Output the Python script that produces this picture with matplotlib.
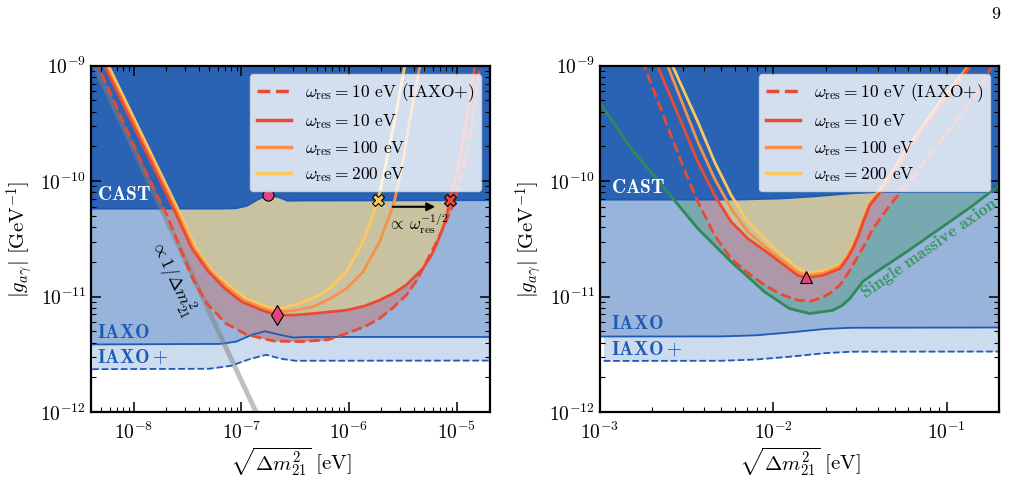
import numpy as np
import matplotlib
matplotlib.use("Agg")
import matplotlib.pyplot as plt
from matplotlib.patches import Polygon

plt.rcParams['font.family'] = 'serif'
plt.rcParams['font.serif'] = ['cmr10', 'DejaVu Serif']
plt.rcParams['mathtext.fontset'] = 'cm'
plt.rcParams['axes.formatter.use_mathtext'] = True
plt.rcParams['axes.unicode_minus'] = False

# colours
c_dark = '#2a63b4'
c_mid = '#98b4db'
c_light = '#cddbee'
c_bline = '#1f5bb5'
c_tan = '#c9c2a0'
c_mauve = '#ae97a9'
c_teal = '#78a8b0'
c_red = '#eb4a32'
c_orange = '#f5914a'
c_yellow = '#fbc95c'
c_green = '#2e8b57'
c_pink = '#e0457b'

# ---------------- left panel data ----------------
L_xlim = (4e-9, 2.04e-5)
L_xticks = [1e-8, 1e-7, 1e-6, 1e-5]
castL_x = [4e-9, 6.31e-8, 8.91e-8, 1.12e-7, 1.41e-7, 1.78e-7, 2.24e-7, 2.69e-7, 3.55e-7, 2.04e-5]
castL_y = [5.78e-11, 5.78e-11, 5.82e-11, 6.10e-11, 6.92e-11, 7.59e-11, 7.24e-11, 6.76e-11, 6.79e-11, 6.84e-11]
iaxoL_x = [4e-9, 6.31e-8, 8.91e-8, 1.26e-7, 1.66e-7, 2.24e-7, 3.02e-7, 3.98e-7, 2.04e-5]
iaxoL_y = [3.85e-12, 3.89e-12, 4.07e-12, 4.68e-12, 5.01e-12, 4.68e-12, 4.42e-12, 4.47e-12, 4.47e-12]
iaxopL_x = [4.1e-9, 5.01e-8, 7.94e-8, 1.20e-7, 1.70e-7, 2.40e-7, 3.16e-7, 2.04e-5]
iaxopL_y = [2.35e-12, 2.37e-12, 2.51e-12, 2.88e-12, 3.13e-12, 2.88e-12, 2.78e-12, 2.79e-12]
grayL_x = [4e-9, 1.5e-7]
grayL_y = [1.17e-9, 8.3e-13]

dashL_x = [4.37e-9, 4.70e-9, 1.26e-8, 2.04e-8, 2.75e-8, 3.55e-8, 4.79e-8, 7.08e-8, 1.12e-7, 2.0e-7,
           3.55e-7, 6.31e-7, 9.44e-7, 1.40e-6, 1.92e-6, 2.60e-6, 3.40e-6, 4.30e-6, 5.22e-6, 6.30e-6,
           7.45e-6, 8.70e-6, 9.91e-6, 1.18e-5, 1.37e-5, 1.51e-5, 1.62e-5, 1.68e-5]
dashL_y = [1.12e-9, 9.75e-10, 1.26e-10, 5.01e-11, 2.51e-11, 1.41e-11, 8.71e-12, 5.89e-12, 4.68e-12, 4.12e-12,
           4.07e-12, 4.22e-12, 4.79e-12, 5.50e-12, 6.46e-12, 8.10e-12, 1.03e-11, 1.40e-11, 2.0e-11, 2.80e-11,
           3.89e-11, 5.40e-11, 7.59e-11, 1.47e-10, 2.85e-10, 5.55e-10, 8.91e-10, 1.12e-9]
redL_x = [5.01e-9, 5.42e-9, 2.34e-8, 3.46e-8, 4.94e-8, 7.05e-8, 1.01e-7, 1.55e-7, 2.13e-7, 3.16e-7,
          4.62e-7, 9.44e-7, 1.40e-6, 1.92e-6, 2.60e-6, 3.40e-6, 4.85e-6, 5.70e-6, 6.46e-6, 8.0e-6,
          8.59e-6, 1.06e-5, 1.27e-5, 1.47e-5, 1.51e-5]
redL_y = [1.12e-9, 9.75e-10, 5.78e-11, 2.61e-11, 1.64e-11, 1.17e-11, 9.0e-12, 7.62e-12, 6.90e-12, 6.92e-12,
          7.13e-12, 7.62e-12, 8.30e-12, 9.31e-12, 1.07e-11, 1.26e-11, 1.75e-11, 2.20e-11, 2.79e-11, 4.73e-11,
          6.82e-11, 1.47e-10, 3.98e-10, 9.75e-10, 1.12e-9]
orangeL_x = [5.13e-9, 5.61e-9, 2.45e-8, 3.63e-8, 5.19e-8, 7.41e-8, 1.05e-7, 1.58e-7, 2.13e-7, 3.16e-7,
             4.62e-7, 6.61e-7, 9.44e-7, 1.35e-6, 1.92e-6, 2.38e-6, 2.65e-6, 3.16e-6, 3.78e-6, 4.53e-6, 4.68e-6]
orangeL_y = [1.12e-9, 9.75e-10, 5.78e-11, 2.61e-11, 1.64e-11, 1.20e-11, 9.33e-12, 7.94e-12, 7.33e-12, 7.59e-12,
             8.15e-12, 9.55e-12, 1.17e-11, 1.64e-11, 2.98e-11, 5.07e-11, 6.82e-11, 1.47e-10, 3.98e-10, 9.75e-10, 1.12e-9]
yellowL_x = [5.37e-9, 5.90e-9, 2.56e-8, 3.80e-8, 5.43e-8, 7.76e-8, 1.10e-7, 1.62e-7, 2.13e-7, 2.82e-7,
             3.48e-7, 5.01e-7, 6.61e-7, 9.44e-7, 1.35e-6, 1.86e-6, 2.22e-6, 2.75e-6, 3.28e-6, 3.39e-6]
yellowL_y = [1.12e-9, 9.75e-10, 5.78e-11, 2.61e-11, 1.64e-11, 1.23e-11, 9.55e-12, 8.32e-12, 7.76e-12, 8.32e-12,
             8.71e-12, 1.0e-11, 1.17e-11, 1.64e-11, 2.98e-11, 6.82e-11, 1.47e-10, 3.98e-10, 9.75e-10, 1.12e-9]

circleL = (1.78e-7, 7.59e-11)
diamondL = (2.13e-7, 6.9e-12)
xmark_yellow = (1.86e-6, 6.82e-11)
xmark_red = (8.59e-6, 6.82e-11)
arrow_x = [2.4e-6, 6.7e-6]
arrow_y = 6.0e-11

# ---------------- right panel data ----------------
R_xlim = (1e-3, 0.2)
R_xticks = [1e-3, 1e-2, 1e-1]
castR_x = [1e-3, 6.31e-3, 1.12e-2, 1.78e-2, 2.82e-2, 3.98e-2, 0.2]
castR_y = [6.92e-11, 6.92e-11, 7.08e-11, 7.41e-11, 7.85e-11, 8.04e-11, 8.05e-11]
iaxoR_x = [1e-3, 5.01e-3, 7.94e-3, 1.26e-2, 2.0e-2, 2.82e-2, 0.2]
iaxoR_y = [4.51e-12, 4.52e-12, 4.62e-12, 4.90e-12, 5.25e-12, 5.37e-12, 5.40e-12]
iaxopR_x = [1.05e-3, 5.01e-3, 7.94e-3, 1.26e-2, 2.0e-2, 2.82e-2, 0.2]
iaxopR_y = [2.77e-12, 2.78e-12, 2.85e-12, 3.02e-12, 3.24e-12, 3.33e-12, 3.34e-12]
green_x = [1e-3, 1.52e-3, 2.36e-3, 3.67e-3, 5.71e-3, 8.89e-3, 1.24e-2, 1.62e-2, 2.21e-2, 2.50e-2, 2.76e-2,
           3.05e-2, 3.30e-2, 3.94e-2, 5.86e-2, 9.12e-2, 0.142, 0.2]
green_y = [4.72e-10, 1.91e-10, 8.61e-11, 3.88e-11, 2.0e-11, 1.10e-11, 7.87e-12, 7.13e-12, 7.62e-12, 8.40e-12, 9.62e-12,
           1.17e-11, 1.36e-11, 1.64e-11, 2.44e-11, 3.88e-11, 6.18e-11, 9.2e-11]
dashR_x = [1.76e-3, 1.81e-3, 2.36e-3, 2.94e-3, 3.67e-3, 4.58e-3, 5.71e-3, 7.13e-3, 8.89e-3, 1.10e-2, 1.38e-2, 1.66e-2,
           1.94e-2, 2.18e-2, 2.42e-2, 2.70e-2, 3.02e-2, 3.37e-2, 3.76e-2, 4.69e-2, 5.86e-2, 9.12e-2, 0.142, 0.181, 0.195]
dashR_y = [1.12e-9, 9.75e-10, 3.48e-10, 1.47e-10, 6.61e-11, 3.40e-11, 2.13e-11, 1.60e-11, 1.26e-11, 1.05e-11, 9.31e-12, 9.12e-12,
           9.93e-12, 1.10e-11, 1.26e-11, 1.60e-11, 2.13e-11, 2.85e-11, 3.88e-11, 6.18e-11, 9.23e-11, 2.18e-10, 5.18e-10, 9.75e-10, 1.12e-9]
redR_x = [2.09e-3, 2.16e-3, 2.94e-3, 3.67e-3, 4.58e-3, 5.71e-3, 7.13e-3, 9.70e-3, 1.38e-2, 1.55e-2,
          1.94e-2, 2.42e-2, 2.65e-2, 2.88e-2, 3.10e-2, 3.30e-2, 3.60e-2, 4.30e-2, 5.86e-2, 9.12e-2, 0.136, 0.145]
redR_y = [1.12e-9, 9.75e-10, 3.26e-10, 1.47e-10, 7.55e-11, 4.44e-11, 3.18e-11, 2.28e-11, 1.53e-11, 1.45e-11,
          1.53e-11, 1.75e-11, 2.10e-11, 2.61e-11, 3.40e-11, 4.44e-11, 6.18e-11, 8.61e-11, 1.79e-10, 4.54e-10, 9.75e-10, 1.12e-9]
orangeR_x = [2.40e-3, 2.47e-3, 3.67e-3, 4.58e-3, 5.71e-3, 7.13e-3, 9.70e-3, 1.38e-2, 1.55e-2, 1.94e-2,
             2.42e-2, 2.65e-2, 2.88e-2, 3.10e-2, 3.30e-2, 3.60e-2, 4.30e-2, 5.86e-2, 9.12e-2, 0.133, 0.141]
orangeR_y = [1.12e-9, 9.75e-10, 2.18e-10, 1.05e-10, 5.78e-11, 3.63e-11, 2.44e-11, 1.64e-11, 1.53e-11, 1.60e-11,
             1.84e-11, 2.20e-11, 2.75e-11, 3.55e-11, 4.68e-11, 6.46e-11, 8.91e-11, 1.84e-10, 4.68e-10, 9.75e-10, 1.12e-9]
yellowR_x = [2.57e-3, 2.64e-3, 3.67e-3, 4.58e-3, 5.71e-3, 7.13e-3, 9.70e-3, 1.38e-2, 1.55e-2, 1.94e-2,
             2.42e-2, 2.65e-2, 2.88e-2, 3.10e-2, 3.30e-2, 3.60e-2, 4.30e-2, 5.86e-2, 9.12e-2, 0.132, 0.138]
yellowR_y = [1.12e-9, 9.75e-10, 3.26e-10, 1.47e-10, 7.55e-11, 4.44e-11, 2.79e-11, 1.75e-11, 1.60e-11, 1.66e-11,
             1.91e-11, 2.28e-11, 2.85e-11, 3.65e-11, 4.84e-11, 6.68e-11, 9.12e-11, 1.88e-10, 4.79e-10, 9.75e-10, 1.12e-9]
triangleR = (1.55e-2, 1.47e-11)

yticks = [1e-12, 1e-11, 1e-10, 1e-9]
labels = [r'$\omega_{\rm res} = 10$ eV (IAXO+)', r'$\omega_{\rm res} = 10$ eV',
          r'$\omega_{\rm res} = 100$ eV', r'$\omega_{\rm res} = 200$ eV']

TOP = 1e-8
BOT = 1e-14


def below_cast(ax, cx, cy):
    verts = list(zip(cx, cy)) + [(cx[-1], BOT), (cx[0], BOT)]
    return Polygon(verts, closed=True, transform=ax.transData)


def background(ax, cx, cy, ix, iy, px, py):
    ax.fill_between(px, py, TOP, color=c_light, lw=0, zorder=0.2)
    ax.fill_between(ix, iy, TOP, color=c_mid, lw=0, zorder=0.3)
    ax.fill_between(cx, cy, TOP, color=c_dark, lw=0, zorder=0.4)
    ax.plot(cx, cy, color=c_bline, lw=1.3, zorder=1.5)
    ax.plot(ix, iy, color=c_bline, lw=1.3, zorder=1.5)
    ax.plot(px, py, color=c_bline, lw=1.3, ls='--', zorder=1.5)


def fill_region(ax, x, y, color, cx, cy):
    f = ax.fill_between(x, y, TOP, color=color, lw=0, zorder=0.8)
    f.set_clip_path(below_cast(ax, cx, cy))


def curves(ax, dx, dy, rx, ry, ox, oy, yx, yy):
    ax.plot(yx, yy, color=c_yellow, lw=2.0, zorder=2)
    ax.plot(ox, oy, color=c_orange, lw=2.0, zorder=2.1)
    ax.plot(rx, ry, color=c_red, lw=2.0, zorder=2.2)
    ax.plot(dx, dy, color=c_red, lw=2.0, ls='--', zorder=2.3)
    h = [plt.Line2D([], [], color=c_red, lw=2.5, ls='--'),
         plt.Line2D([], [], color=c_red, lw=2.5),
         plt.Line2D([], [], color=c_orange, lw=2.5),
         plt.Line2D([], [], color=c_yellow, lw=2.5)]
    leg = ax.legend(h, labels, loc='upper right', fontsize=12.5, framealpha=0.8,
                    fancybox=True, edgecolor='0.85', handlelength=2.0, labelspacing=0.45)
    leg.set_zorder(5)


def style(ax, xlim, xticks):
    ax.set_xscale('log')
    ax.set_yscale('log')
    ax.set_xticks(xticks)
    ax.set_yticks(yticks)
    ax.set_xlim(*xlim)
    ax.set_ylim(1e-12, 1e-9)
    ax.set_facecolor('white')
    ax.tick_params(which='both', direction='in', top=True, right=True, labelsize=14)
    ax.tick_params(which='major', length=7, width=1.1)
    ax.tick_params(which='minor', length=3.5, width=0.8)
    ax.tick_params(axis='x', which='major', pad=7)
    for s in ax.spines.values():
        s.set_linewidth(1.6)
        s.set_zorder(6)
    ax.set_ylabel(r'$|g_{a\gamma}|\ [\mathrm{GeV}^{-1}]$', fontsize=15)
    ax.set_xlabel(r'$\sqrt{\Delta m_{21}^2}\ [\mathrm{eV}]$', fontsize=15, labelpad=2)


fig = plt.figure(figsize=(10.2, 5.04), dpi=100)
ax1 = fig.add_axes([0.0892, 0.1825, 0.3912, 0.6871])
ax2 = fig.add_axes([0.5882, 0.1825, 0.3912, 0.6871])

# left panel
background(ax1, castL_x, castL_y, iaxoL_x, iaxoL_y, iaxopL_x, iaxopL_y)
fill_region(ax1, dashL_x, dashL_y, c_mauve, castL_x, castL_y)
fill_region(ax1, redL_x, redL_y, c_tan, castL_x, castL_y)
ax1.plot(grayL_x, grayL_y, color='gray', alpha=0.5, lw=3.5, zorder=1.8, solid_capstyle='butt')
curves(ax1, dashL_x, dashL_y, redL_x, redL_y, orangeL_x, orangeL_y, yellowL_x, yellowL_y)
ax1.plot(*circleL, 'o', ms=8, mfc=c_pink, mec='k', mew=0.8, zorder=4)
ax1.plot(*diamondL, 'd', ms=10, mfc=c_pink, mec='k', mew=0.8, zorder=4)
ax1.plot(*xmark_yellow, 'X', ms=9, mfc=c_yellow, mec='k', mew=0.8, zorder=4)
ax1.plot(*xmark_red, 'X', ms=9, mfc=c_red, mec='k', mew=0.8, zorder=4)
ax1.annotate('', xy=(arrow_x[1], arrow_y), xytext=(arrow_x[0], arrow_y),
             arrowprops=dict(arrowstyle='-|>', color='k', lw=1.5, mutation_scale=12), zorder=4)
ax1.text(2.29e-6, 5.4e-11, r'$\propto\,\omega_{\rm res}^{-1/2}$', fontsize=12, ha='left', va='top', zorder=4)
ax1.text(2.25e-8, 1.45e-11, r'$\propto 1/\Delta m^2_{21}$', fontsize=13, rotation=-65,
         rotation_mode='anchor', ha='center', va='center', zorder=4)
ax1.text(0.015, 0.627, r'$\mathbf{CAST}$', color='white', fontsize=14, transform=ax1.transAxes, va='center', zorder=4)
ax1.text(0.015, 0.228, r'$\mathbf{IAXO}$', color=c_bline, fontsize=14, transform=ax1.transAxes, va='center', zorder=4)
ax1.text(0.015, 0.159, r'$\mathbf{IAXO+}$', color=c_bline, fontsize=14, transform=ax1.transAxes, va='center', zorder=4)
style(ax1, L_xlim, L_xticks)

# right panel
background(ax2, castR_x, castR_y, iaxoR_x, iaxoR_y, iaxopR_x, iaxopR_y)
fill_region(ax2, green_x, green_y, c_teal, castR_x, castR_y)
fill_region(ax2, dashR_x, dashR_y, c_mauve, castR_x, castR_y)
fill_region(ax2, redR_x, redR_y, c_tan, castR_x, castR_y)
ax2.plot(green_x, green_y, color=c_green, lw=2.0, zorder=2)
curves(ax2, dashR_x, dashR_y, redR_x, redR_y, orangeR_x, orangeR_y, yellowR_x, yellowR_y)
ax2.plot(*triangleR, '^', ms=9, mfc=c_pink, mec='k', mew=0.8, zorder=4)
ax2.text(7.98e-2, 2.6e-11, r'$\mathbf{Single\ massive\ axion}$', color='#3a9a5c', fontsize=13,
         rotation=35, rotation_mode='anchor', ha='center', va='center', zorder=4)
ax2.text(0.028, 0.647, r'$\mathbf{CAST}$', color='white', fontsize=14, transform=ax2.transAxes, va='center', zorder=4)
ax2.text(0.028, 0.254, r'$\mathbf{IAXO}$', color=c_bline, fontsize=14, transform=ax2.transAxes, va='center', zorder=4)
ax2.text(0.028, 0.182, r'$\mathbf{IAXO+}$', color=c_bline, fontsize=14, transform=ax2.transAxes, va='center', zorder=4)
style(ax2, R_xlim, R_xticks)

fig.text(0.981, 0.972, '9', fontsize=13, ha='right', va='center')

fig.savefig('out.png', dpi=100)
